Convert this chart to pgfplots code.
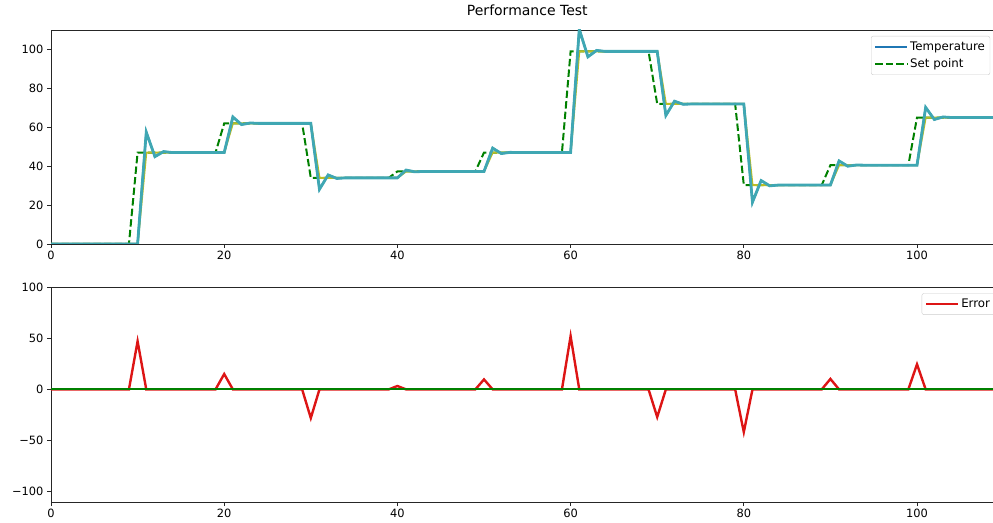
\documentclass[border=0pt]{standalone}
\usepackage{pgfplots}
\pgfplotsset{compat=1.18}
\usepackage{fontspec}
\setmainfont{DejaVu Sans}
\definecolor{tblue}{HTML}{1F77B4}
\definecolor{tteal}{HTML}{3FA7B3}
\definecolor{tolive}{HTML}{BCBD22}
\definecolor{sgreen}{HTML}{008000}
\definecolor{ered}{HTML}{DD1515}
\newcommand{\tickfont}{\fontsize{11.4}{13}\selectfont}
\newcommand{\legfont}{\fontsize{11.8}{13.5}\selectfont}
\pgfplotsset{
  mystyle/.style={
    scale only axis,
    width=952.6pt,
    xmin=0, xmax=110,
    xtick={0,20,40,60,80,100},
    tick align=outside,
    tick pos=left,
    major tick length=4pt,
    axis line style={black!85, line width=0.8pt},
    every tick/.style={black!85, line width=0.8pt},
    /pgf/number format/assume math mode=true,
    tick label style={font=\tickfont},
    legend cell align=left,
    legend image code/.code={\draw[##1] (0pt,0pt) -- (27pt,0pt); \path (0pt,0pt) -- (32pt,0pt);},
  }
}
\begin{document}
\begin{tikzpicture}[x=1pt,y=1pt]
\useasboundingbox (0,0) rectangle (993,522);
\clip (0,0) rectangle (993,522);
\begin{axis}[mystyle,
  at={(51pt,278pt)}, anchor=south west,
  height=214pt,
  ymin=0, ymax=110,
  ytick={0,20,40,60,80,100},
  title={Performance Test},
  title style={font=\fontsize{14}{16}\selectfont, at={(0.5,1)}, anchor=base, yshift=8.3pt},
  legend style={at={(0.8608,0.972)}, anchor=north west, draw=black!20, rounded corners=2pt,
    font=\legfont, inner xsep=3pt, inner ysep=3.5pt, row sep=3pt},
]
\addplot[tblue, line width=2pt] coordinates {
(0,0) (10,0) (11,57.5) (12,44.9) (13,47.5) (14,47) (20,47) (21,65.3) (22,61.4) (23,62.2) (24,62)
(30,62) (31,28.1) (32,35.5) (33,33.7) (34,34) (40,34) (41,38.0) (42,37.1) (43,37.3) (50,37.3)
(51,49.3) (52,46.5) (53,47.1) (54,47) (60,47) (61,110.4) (62,96.2) (63,99.5) (64,99) (70,99)
(71,66.1) (72,73.4) (73,71.8) (74,72) (80,72) (81,21.5) (82,32.6) (83,29.9) (84,30.3) (90,30.3)
(91,42.7) (92,40.0) (93,40.6) (94,40.5) (100,40.5) (101,70.2) (102,64.0) (103,65.3) (104,65) (110,65)
};
\addlegendentry{Temperature}
\addplot[sgreen, line width=2pt, dash pattern=on 7.4pt off 3.2pt] coordinates {
(0,0) (9,0) (10,47) (19,47) (20,62) (29,62) (30,34) (39,34) (40,37.3) (49,37.3) (50,47) (59,47)
(60,99) (69,99) (70,72) (79,72) (80,30.3) (89,30.3) (90,40.5) (99,40.5) (100,65) (110,65)
};
\addlegendentry{Set point}
\addplot[tolive, line width=2pt, forget plot] coordinates {
(0,0) (10,0) (11,47) (20,47) (21,62) (30,62) (31,34) (40,34) (41,37.3) (50,37.3) (51,47) (60,47)
(61,99) (70,99) (71,72) (80,72) (81,30.3) (90,30.3) (91,40.5) (100,40.5) (101,65) (110,65)
};
\addplot[tteal, line width=2.8pt, forget plot] coordinates {
(0,0) (10,0) (11,57.5) (12,44.9) (13,47.5) (14,47) (20,47) (21,65.3) (22,61.4) (23,62.2) (24,62)
(30,62) (31,28.1) (32,35.5) (33,33.7) (34,34) (40,34) (41,38.0) (42,37.1) (43,37.3) (50,37.3)
(51,49.3) (52,46.5) (53,47.1) (54,47) (60,47) (61,110.4) (62,96.2) (63,99.5) (64,99) (70,99)
(71,66.1) (72,73.4) (73,71.8) (74,72) (80,72) (81,21.5) (82,32.6) (83,29.9) (84,30.3) (90,30.3)
(91,42.7) (92,40.0) (93,40.6) (94,40.5) (100,40.5) (101,70.2) (102,64.0) (103,65.3) (104,65) (110,65)
};
\end{axis}
\begin{axis}[mystyle,
  at={(51pt,20pt)}, anchor=south west,
  height=215pt,
  ymin=-110, ymax=100,
  ytick={-100,-50,0,50,100},
  yticklabels={−100,−50,0,50,100},
  legend style={at={(0.914,0.9707)}, anchor=north west, draw=black!20, rounded corners=2pt,
    font=\legfont, inner xsep=3pt, inner ysep=3.5pt},
]
\addplot[ered, line width=2.4pt] coordinates {
(0,0) (9,0) (10,47) (11,0) (19,0) (20,15) (21,0) (29,0) (30,-28) (31,0) (39,0) (40,3.3) (41,0)
(49,0) (50,9.7) (51,0) (59,0) (60,52) (61,0) (69,0) (70,-27) (71,0) (79,0) (80,-41.7) (81,0)
(89,0) (90,10.2) (91,0) (99,0) (100,24.5) (101,0) (110,0)
};
\addlegendentry{Error}
\addplot[sgreen, line width=1.6pt, forget plot] coordinates {(0,0.4) (110,0.4)};
\end{axis}
\end{tikzpicture}
\end{document}
